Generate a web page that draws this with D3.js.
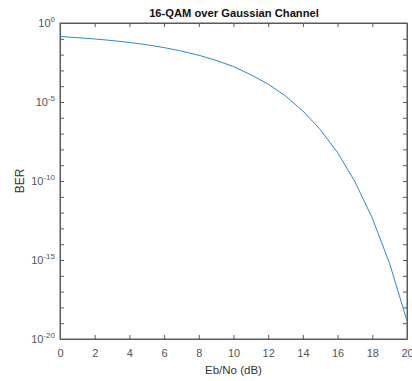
<!DOCTYPE html>
<html>
<head>
<meta charset="utf-8">
<script src="https://cdn.jsdelivr.net/npm/d3@7"></script>
<style>
  body { margin: 0; background: #fff; }
  svg { display: block; font-family: "Liberation Sans", Arial, sans-serif; }
</style>
</head>
<body>
<div id="chart"></div>
<script>
// Eb/No (dB) and BER
const ebno = [0, 1, 2, 3, 4, 5, 6, 7, 8, 9, 10, 11, 12, 13, 14, 15, 16, 17, 18, 19, 20];
const ber = [0.14, 0.118, 0.0977, 0.0773, 0.059, 0.0419, 0.0278, 0.0167, 0.00908, 0.0043,
  0.00175, 5.3e-4, 1.35e-4, 2.4e-5, 2.7e-6, 1.8e-7, 6.3e-9, 9.0e-11, 4.5e-13, 5.9e-16, 1.4e-19];
const xTicks = [0, 2, 4, 6, 8, 10, 12, 14, 16, 18, 20];
const yTickExp = [0, -5, -10, -15, -20];

const W = 412, H = 381;
const margin = {top: 23, right: 5, bottom: 42, left: 60};
const width = W - margin.left - margin.right,
      height = H - margin.top - margin.bottom;

const svg = d3.select("#chart").append("svg")
  .attr("width", W).attr("height", H);

const g = svg.append("g").attr("transform", `translate(${margin.left},${margin.top})`);

const x = d3.scaleLinear().domain([0, 20]).range([0, width]);
const y = d3.scaleLog().domain([1e-20, 1]).range([height, 0]);

const axisCol = "#5a5a5a";
const minor = d3.range(-20, 1).map(e => Math.pow(10, e));

// x axis bottom + top
g.append("g").attr("transform", `translate(0,${height})`)
  .call(d3.axisBottom(x).tickValues(xTicks).tickSizeInner(-4).tickSizeOuter(0).tickPadding(10));
g.append("g")
  .call(d3.axisTop(x).tickValues(xTicks).tickSizeInner(-4).tickSizeOuter(0).tickFormat(""));

// y axis left + right, tick every decade
g.append("g")
  .call(d3.axisLeft(y).tickValues(minor).tickSizeInner(-4).tickSizeOuter(0).tickFormat(""));
g.append("g").attr("transform", `translate(${width},0)`)
  .call(d3.axisRight(y).tickValues(minor).tickSizeInner(-4).tickSizeOuter(0).tickFormat(""));

g.selectAll(".domain").attr("stroke", axisCol);
g.selectAll(".tick line").attr("stroke", axisCol);
g.selectAll(".tick text").attr("fill", "#555").style("font-size", "11px");

// y labels 10^n
const yl = g.append("g");
yTickExp.forEach(e => {
  const t = yl.append("text")
    .attr("x", -5).attr("y", y(Math.pow(10, e)) + 4)
    .attr("text-anchor", "end")
    .attr("fill", "#555")
    .style("font-size", "11px");
  t.append("tspan").text("10");
  t.append("tspan").attr("dy", -5).style("font-size", "8px").text(e);
});

// box
g.append("rect").attr("width", width).attr("height", height)
  .attr("fill", "none").attr("stroke", axisCol).attr("stroke-width", 1);

// curve
const line = d3.line().x((d, i) => x(ebno[i])).y(d => y(d));
g.append("path").datum(ber)
  .attr("d", line)
  .attr("fill", "none")
  .attr("stroke", "#3089c2")
  .attr("stroke-width", 1);

// labels
svg.append("text").attr("x", 234).attr("y", 17)
  .attr("text-anchor", "middle").style("font-weight", "bold").style("font-size", "11.2px")
  .attr("fill", "#111").text("16-QAM over Gaussian Channel");

svg.append("text").attr("x", margin.left + width / 2).attr("y", 374)
  .attr("text-anchor", "middle").style("font-size", "11.5px")
  .attr("fill", "#333").text("Eb/No (dB)");

svg.append("text")
  .attr("transform", `translate(24,${margin.top + height / 2}) rotate(-90)`)
  .attr("text-anchor", "middle").style("font-size", "12px")
  .attr("fill", "#333").text("BER");
</script>
</body>
</html>
